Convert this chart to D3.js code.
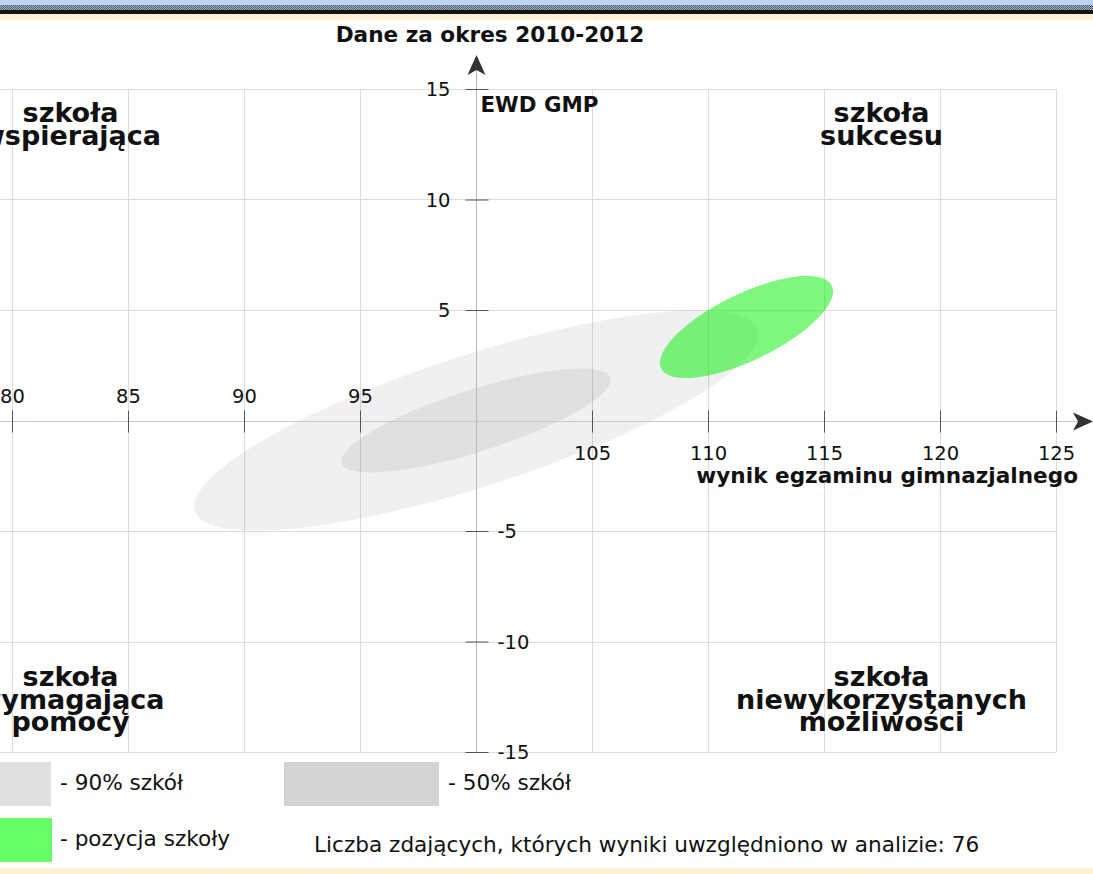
<!DOCTYPE html>
<html><head><meta charset="utf-8">
<script src="https://cdn.jsdelivr.net/npm/d3@7"></script>
<style>html,body{margin:0;padding:0;background:#fff;overflow:hidden}svg{display:block}</style>
</head><body>
<script>
// ---- data ----
const title = "Dane za okres 2010-2012";
const yAxisTitle = "EWD GMP";
const xAxisTitle = "wynik egzaminu gimnazjalnego";
const xTicks = [80, 85, 90, 95, 105, 110, 115, 120, 125];
const yTicks = [15, 10, 5, -5, -10, -15];
const xGrid = [80, 85, 90, 95, 100, 105, 110, 115, 120, 125];
const yGrid = [15, 10, 5, 0, -5, -10, -15];
const seriesNames = ["90% szkół", "50% szkół", "pozycja szkoły"];
const centerX = [100, 100, 111.66];
const centerY = [0, 0, 4.23];
const halfX = [12.15, 5.8, 3.73];
const halfY = [4.98, 2.35, 2.31];
const corr = [0.78, 0.78, 0.70];
const quadrantTopLeft = ["szkoła", "wspierająca"];
const quadrantTopRight = ["szkoła", "sukcesu"];
const quadrantBottomLeft = ["szkoła", "wymagająca", "pomocy"];
const quadrantBottomRight = ["szkoła", "niewykorzystanych", "możliwości"];
const countNote = "Liczba zdających, których wyniki uwzględniono w analizie: 76";

// ---- layout ----
const W = 1093, H = 874;
const svg = d3.select("body").append("svg").attr("width", W).attr("height", H);
const font = "DejaVu Sans, Verdana, sans-serif";

const defs = svg.append("defs");
const pat = defs.append("pattern").attr("id", "chk").attr("width", 2).attr("height", 2).attr("patternUnits", "userSpaceOnUse");
pat.append("rect").attr("width", 2).attr("height", 2).attr("fill", "#a9b7cc");
pat.append("rect").attr("width", 1).attr("height", 1).attr("fill", "#4d5666");
pat.append("rect").attr("x", 1).attr("y", 1).attr("width", 1).attr("height", 1).attr("fill", "#4d5666");

// frame bands
svg.append("rect").attr("x", 0).attr("y", 0).attr("width", W).attr("height", 5).attr("fill", "#bcd5ee");
svg.append("rect").attr("x", 0).attr("y", 5).attr("width", W).attr("height", 5).attr("fill", "url(#chk)");
svg.append("rect").attr("x", 0).attr("y", 10).attr("width", W).attr("height", 4).attr("fill", "#141414");
svg.append("rect").attr("x", 0).attr("y", 14).attr("width", W).attr("height", 6).attr("fill", "#fdf0d3");
svg.append("rect").attr("x", 0).attr("y", 868).attr("width", W).attr("height", 6).attr("fill", "#fdf0d3");

const x = d3.scaleLinear().domain([80, 125]).range([12, 1056]);
const y = d3.scaleLinear().domain([-15, 15]).range([752, 89]);

// grid
const grid = svg.append("g").attr("stroke", "#dcdcdc").attr("stroke-width", 1);
grid.selectAll("line.v").data(xGrid.filter(d => d !== 100)).join("line")
  .attr("x1", d => Math.round(x(d)) + 0.5).attr("x2", d => Math.round(x(d)) + 0.5)
  .attr("y1", y(15)).attr("y2", y(-15));
grid.selectAll("line.h").data(yGrid.filter(d => d !== 0)).join("line")
  .attr("x1", 0).attr("x2", x(125))
  .attr("y1", d => Math.round(y(d)) + 0.5).attr("y2", d => Math.round(y(d)) + 0.5);

// ellipses
function ellipsePts(i) {
  const pts = [];
  const s = Math.sqrt(1 - corr[i] * corr[i]);
  for (let k = 0; k < 180; k++) {
    const t = k / 180 * 2 * Math.PI;
    pts.push([centerX[i] + halfX[i] * Math.cos(t),
              centerY[i] + halfY[i] * (corr[i] * Math.cos(t) + s * Math.sin(t))]);
  }
  return pts;
}
const eLine = d3.line().x(d => x(d[0])).y(d => y(d[1])).curve(d3.curveLinearClosed);
const eFill = ["#000", "#000", "rgb(0,240,0)"];
const eOp = [0.06, 0.065, 0.5];
svg.append("g").selectAll("path").data([0, 1, 2]).join("path")
  .attr("d", i => eLine(ellipsePts(i)))
  .attr("fill", i => eFill[i]).attr("fill-opacity", i => eOp[i]);

// axes lines
const x0 = x(100), y0 = y(0);
svg.append("line").attr("x1", Math.round(x0) + 0.5).attr("x2", Math.round(x0) + 0.5)
  .attr("y1", y(-15)).attr("y2", 68).attr("stroke", "#b8b8b8");
svg.append("line").attr("x1", 0).attr("x2", 1082)
  .attr("y1", Math.round(y0) + 0.5).attr("y2", Math.round(y0) + 0.5).attr("stroke", "#c8c8c8");
// arrows
const ax = Math.round(x0) + 0.5;
svg.append("path").attr("d", `M${ax},55 L${ax + 9},75 L${ax},70 L${ax - 9},75 Z`).attr("fill", "#333");
const ay = Math.round(y0) + 0.5;
svg.append("path").attr("d", `M1093,${ay} L1073,${ay - 9} L1078,${ay} L1073,${ay + 9} Z`).attr("fill", "#333");

// x axis ticks via d3 axis
const xAxis = d3.axisBottom(x).tickValues(xTicks).tickSize(11).tickFormat(d => String(d));
const gx = svg.append("g").attr("transform", `translate(0,${ay})`).call(xAxis);
gx.select(".domain").remove();
gx.selectAll(".tick line").attr("y1", -11).attr("y2", 11).attr("stroke", "#555");
gx.selectAll(".tick text")
  .attr("font-family", font).attr("font-size", 19.5).attr("fill", "#111")
  .attr("dy", null)
  .attr("y", d => d < 100 ? -19 : 38);

// y axis ticks via d3 axis
const yAxis = d3.axisLeft(y).tickValues(yTicks).tickSize(11).tickFormat(d => String(d));
const gy = svg.append("g").attr("transform", `translate(${ax},0)`).call(yAxis);
gy.select(".domain").remove();
gy.selectAll(".tick line").attr("x1", -11).attr("x2", 12).attr("stroke", "#555");
gy.selectAll(".tick text")
  .attr("font-family", font).attr("font-size", 19.5).attr("fill", "#111")
  .attr("dy", "0.35em")
  .attr("x", d => d > 0 ? -26 : 21)
  .attr("text-anchor", d => d > 0 ? "end" : "start");

// titles
svg.append("text").attr("x", 490).attr("y", 42).attr("text-anchor", "middle")
  .attr("font-family", font).attr("font-weight", "bold").attr("font-size", 21.6).attr("fill", "#111").text(title);
svg.append("text").attr("x", ax + 4).attr("y", 112)
  .attr("font-family", font).attr("font-weight", "bold").attr("font-size", 21.4).attr("fill", "#111").text(yAxisTitle);
svg.append("text").attr("x", 1078).attr("y", 483).attr("text-anchor", "end")
  .attr("font-family", font).attr("font-weight", "bold").attr("font-size", 21.6).attr("fill", "#111").text(xAxisTitle);

// quadrant labels
function quad(lines, cx, baseY) {
  const t = svg.append("text").attr("text-anchor", "middle")
    .attr("font-family", font).attr("font-weight", "bold").attr("font-size", 27).attr("fill", "#111");
  lines.forEach((l, i) => t.append("tspan").attr("x", cx).attr("y", baseY + i * 22.5).text(l));
}
quad(quadrantTopLeft, ax - 406, 122);
quad(quadrantTopRight, ax + 405, 122);
quad(quadrantBottomLeft, ax - 406, 686);
quad(quadrantBottomRight, ax + 405, 686);

// legend
const lg = svg.append("g").attr("font-family", font).attr("font-size", 21.6).attr("fill", "#111");
lg.append("rect").attr("x", 0).attr("y", 762).attr("width", 51).attr("height", 44).attr("fill", "#e0e0e0");
lg.append("text").attr("x", 60).attr("y", 790).text("- " + seriesNames[0]);
lg.append("rect").attr("x", 284).attr("y", 762).attr("width", 155).attr("height", 44).attr("fill", "#d3d3d3");
lg.append("text").attr("x", 448).attr("y", 790).text("- " + seriesNames[1]);
lg.append("rect").attr("x", 0).attr("y", 818).attr("width", 52).attr("height", 44).attr("fill", "#66ff66");
lg.append("text").attr("x", 60).attr("y", 846).text("- " + seriesNames[2]);
lg.append("text").attr("x", 314).attr("y", 852).text(countNote);
</script>
</body></html>
